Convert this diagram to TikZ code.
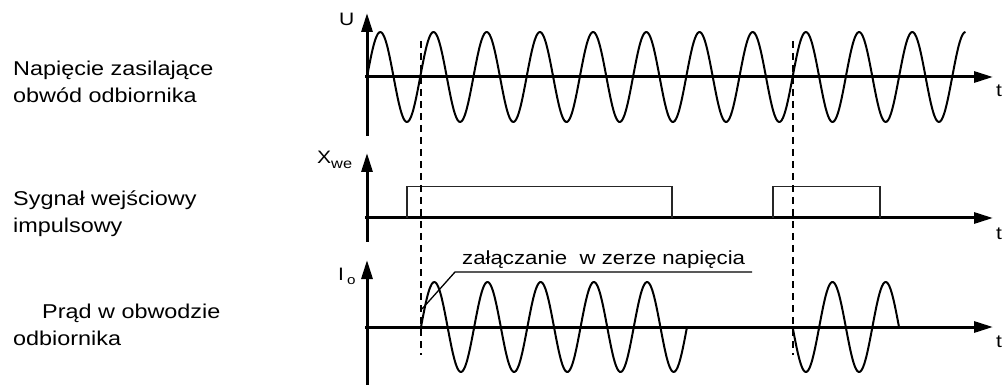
\documentclass[tikz,border=0pt]{standalone}
\usepackage{fontspec}
\setmainfont{Liberation Sans}[FakeStretch=1.17]
\usepackage{tikz}
\usetikzlibrary{arrows.meta, positioning}

\begin{document}
\begin{tikzpicture}[x=1pt, y=-1pt,
    axis/.style={line width=3pt, -{Triangle[length=19pt, width=11pt]}},
    wave/.style={line width=2pt, line join=round},
    pulse/.style={line width=1.4pt, color=black!85},
    guide/.style={line width=1.8pt, dash pattern=on 7pt off 5pt},
    lead/.style={line width=1.3pt},
    lbl/.style={font=\fontsize{20}{27}\selectfont, align=left, inner sep=0pt, anchor=base west},
    axlbl/.style={font=\fontsize{18}{18}\selectfont, inner sep=0pt, anchor=base west},
    ann/.style={font=\fontsize{19}{19}\selectfont, inner sep=0pt, anchor=base west}
  ]
    \useasboundingbox (0,0) rectangle (1005,385);

    \node[lbl] (napiecie) at (13,103) {Napięcie zasilające\\obwód odbiornika};
    \node[lbl] (sygnal)   at (13,233) {Sygnał wejściowy\\impulsowy};
    \node[lbl] (prad)     at (13,345) {\hspace*{29pt}Prąd w obwodzie\\odbiornika};

    \draw[axis] (367,136) -- (367,13);
    \draw[axis] (365,77)  -- (993,77);
    \draw[axis] (367,242) -- (367,153);
    \draw[axis] (365,218) -- (993,218);
    \draw[axis] (367,385) -- (367,260);
    \draw[axis] (365,327) -- (993,327);

    \node[axlbl] (u)   at (339,26)  {U};
    \node[axlbl] (xwe) at (317,164) {X\raisebox{-5pt}{\fontsize{14}{14}\selectfont we}};
    \node[axlbl] (io)  at (338,280) {I\,\raisebox{-4pt}{\fontsize{13}{13}\selectfont o}};
    \node[axlbl] (t1)  at (996,97)  {t};
    \node[axlbl] (t2)  at (996,240) {t};
    \node[axlbl] (t3)  at (996,347) {t};

    \draw[wave] plot[domain=0:11.25, samples=450, smooth]
      ({367+53.2*\x}, {77-45*sin(360*\x)});
    \draw[wave] plot[domain=0:5, samples=200, smooth]
      ({421+53.2*\x}, {327-45*sin(360*\x)});
    \draw[wave] plot[domain=0:2, samples=90, smooth]
      ({792.6+53.2*\x}, {327+45*sin(360*\x)});

    \draw[pulse] (407,218) -- (407,186.5) -- (672,186.5) -- (672,218);
    \draw[pulse] (773,218) -- (773,186.5) -- (880,186.5) -- (880,218);

    \draw[guide] (421,41)   -- (421,355);
    \draw[guide] (792.6,41) -- (792.6,355);

    \node[ann] (zero) at (462,265) {załączanie\ \ w zerze napięcia};
    \coordinate (zstart) at (422,309);
    \draw[lead] (zstart) -- (455,272) -- (752,272);
  \end{tikzpicture}
\end{document}
